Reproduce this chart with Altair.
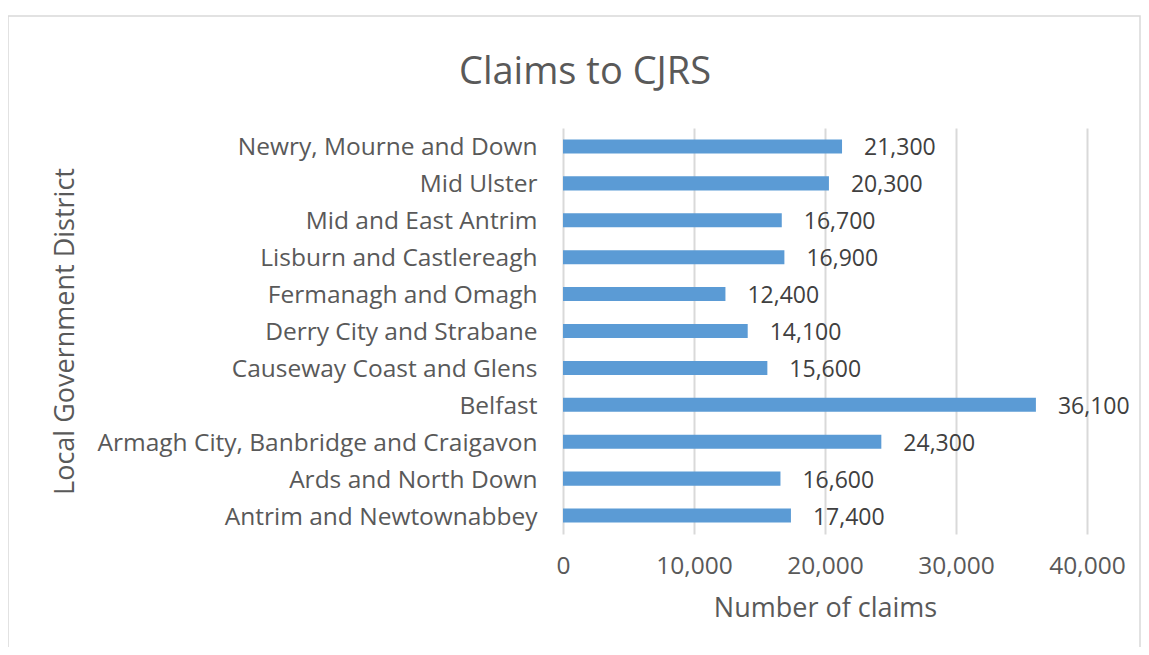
import altair as alt
import pandas as pd

districts = [
    "Newry, Mourne and Down",
    "Mid Ulster",
    "Mid and East Antrim",
    "Lisburn and Castlereagh",
    "Fermanagh and Omagh",
    "Derry City and Strabane",
    "Causeway Coast and Glens",
    "Belfast",
    "Armagh City, Banbridge and Craigavon",
    "Ards and North Down",
    "Antrim and Newtownabbey",
]
claims = [21300, 20300, 16700, 16900, 12400, 14100, 15600, 36100, 24300, 16600, 17400]
x_ticks = [0, 10000, 20000, 30000, 40000]

df = pd.DataFrame({"district": districts, "claims": claims})

FONT = "Open Sans"
GREY = "#595959"
FS = 23

W, H = 524, 406

y_enc = alt.Y(
    "district:N",
    sort=districts,
    scale=alt.Scale(paddingInner=0.62, paddingOuter=0.31),
    axis=alt.Axis(
        title="Local Government District",
        titleFontSize=27,
        titleFont=FONT,
        titleFontWeight="normal",
        titleColor=GREY,
        titleX=-498,
        titleY=H / 2,
        titleAngle=270,
        titleBaseline="middle",
        titleAlign="center",
        labelFontSize=24.5,
        labelFont=FONT,
        labelColor=GREY,
        labelPadding=26,
        labelOffset=2,
        labelLimit=600,
        ticks=False,
        domain=False,
        grid=False,
    ),
)

x_enc = alt.X(
    "claims:Q",
    scale=alt.Scale(domain=[0, 40000], nice=False),
    axis=alt.Axis(
        values=x_ticks,
        format=",.0f",
        title="Number of claims",
        titleFontSize=27,
        titleFont=FONT,
        titleFontWeight="normal",
        titleColor=GREY,
        titleY=74,
        titleBaseline="middle",
        labelFontSize=24.5,
        labelFont=FONT,
        labelColor=GREY,
        labelPadding=20,
        labelFlush=False,
        labelOverlap=False,
        ticks=False,
        domain=False,
        grid=True,
        gridColor="#D9D9D9",
        gridWidth=2,
    ),
)

bars = alt.Chart(df).mark_bar(color="#5B9BD5").encode(x=x_enc, y=y_enc)

labels = alt.Chart(df).mark_text(
    align="left", baseline="middle", dx=22, dy=2, fontSize=FS, font=FONT, color="#404040"
).encode(
    x=x_enc,
    y=y_enc,
    text=alt.Text("claims:Q", format=",.0f"),
)

frame = alt.Chart(pd.DataFrame({"a": [0]})).mark_rect(
    fill="transparent", stroke="#D9D9D9", strokeWidth=1.5
).encode(
    x=alt.value(-555), x2=alt.value(577), y=alt.value(-112), y2=alt.value(560)
)

chart = (
    alt.layer(frame, bars, labels)
    .properties(
        width=W,
        height=H,
        padding={"left": 555, "top": 120, "right": 54, "bottom": 113},
        autosize=alt.AutoSizeParams(type="none"),
        view=alt.ViewBackground(stroke="transparent", strokeWidth=0),
        title=alt.TitleParams(
            "Claims to CJRS",
            fontSize=38,
            font=FONT,
            fontWeight="normal",
            color=GREY,
            anchor="middle",
            frame="group",
            dx=-240,
            offset=-77,
        ),
    )
    .configure_view(strokeWidth=0, stroke="transparent")
    .configure(background="white")
)

chart.save("out.html", embed_options={"renderer": "svg", "actions": False})
